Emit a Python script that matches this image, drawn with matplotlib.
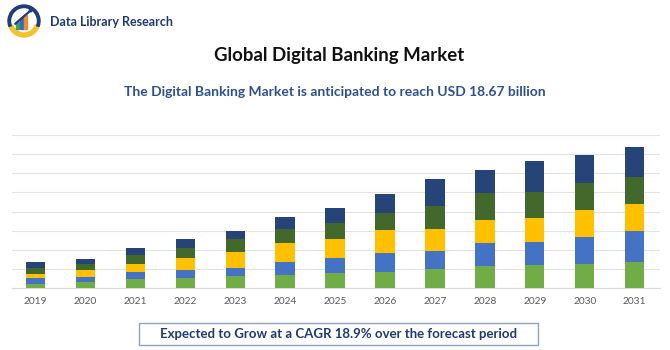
import matplotlib
matplotlib.use("Agg")
import matplotlib.pyplot as plt
import numpy as np
from matplotlib.patches import Rectangle, Circle, Wedge, FancyArrow

years = ["2019", "2020", "2021", "2022", "2023", "2024", "2025",
         "2026", "2027", "2028", "2029", "2030", "2031"]
seg_green = [0.24, 0.31, 0.50, 0.56, 0.64, 0.70, 0.78, 0.87, 0.99, 1.17, 1.20, 1.29, 1.39]
seg_blue = [0.28, 0.26, 0.35, 0.41, 0.44, 0.66, 0.79, 0.96, 0.98, 1.18, 1.22, 1.37, 1.58]
seg_yellow = [0.25, 0.40, 0.40, 0.61, 0.80, 0.99, 1.02, 1.23, 1.14, 1.22, 1.25, 1.44, 1.45]
seg_dkgreen = [0.27, 0.28, 0.49, 0.52, 0.68, 0.75, 0.80, 0.89, 1.19, 1.40, 1.36, 1.41, 1.39]
seg_navy = [0.32, 0.30, 0.35, 0.46, 0.43, 0.64, 0.78, 0.95, 1.42, 1.19, 1.60, 1.43, 1.58]

series = [seg_green, seg_blue, seg_yellow, seg_dkgreen, seg_navy]
colors = ["#70ad47", "#4472c4", "#ffc000", "#43682b", "#264478"]

title = "Global Digital Banking Market"
subtitle = "The Digital Banking Market is anticipated to reach USD 18.67 billion"
footer = "Expected to Grow at a CAGR 18.9% over the forecast period"
brand = "Data Library Research"

plt.rcParams['font.family'] = ['Lato', 'DejaVu Sans']

W, H = 670, 350
fig = plt.figure(figsize=(W / 100, H / 100), dpi=100)
fig.patch.set_facecolor("white")

# axes placement (pixels)
ax_l, ax_r, ax_t, ax_b = 12, 660, 135, 288.3
ax = fig.add_axes([ax_l / W, 1 - ax_b / H, (ax_r - ax_l) / W, (ax_b - ax_t) / H])
x = np.arange(len(years))
bottom = np.zeros(len(years))
for vals, c in zip(series, colors):
    ax.bar(x, vals, bottom=bottom, width=0.39, color=c, zorder=3, linewidth=0)
    bottom += np.array(vals)

ax.set_xlim(-0.475, 12.51)
ax.set_ylim(0, 8)
ax.set_yticks(np.arange(0, 9, 1))
ax.yaxis.grid(True, color="#e3e3e3", linewidth=0.8, zorder=0)
ax.tick_params(axis="y", left=False, labelleft=False)
ax.tick_params(axis="x", length=0, pad=6, labelsize=7.3, labelcolor="#595959")
ax.set_xticks(x)
ax.set_xticklabels(years)
for s in ["top", "right", "left"]:
    ax.spines[s].set_visible(False)
ax.spines["bottom"].set_color("#d9d9d9")
ax.spines["bottom"].set_linewidth(0.8)
ax.set_facecolor("white")

# titles
fig.text(339 / W, 1 - 55.5 / H, title, ha="center", va="center",
         fontsize=13.4, fontweight="bold", color="#111111")
fig.text(335 / W, 1 - 92 / H, subtitle, ha="center", va="center",
         fontsize=10.0, fontweight="bold", color="#2f5189")

# footer box
fig.patches.append(Rectangle((139 / W, 1 - 345 / H), (538 - 139) / W, 22 / H,
                             transform=fig.transFigure, facecolor="white",
                             edgecolor="#8fa2bf", linewidth=1.0))
fig.text(339 / W, 1 - 333.5 / H, footer, ha="center", va="center",
         fontsize=9.5, fontweight="bold", color="#1f3b6e")

# logo
lax = fig.add_axes([3 / W, 1 - 39 / H, 42 / W, 36 / H])
lax.set_xlim(0, 42)
lax.set_ylim(0, 36)
lax.set_aspect("equal")
lax.axis("off")
lax.add_patch(Wedge((21, 18), 16, 200, 340, width=4, color="#f2c230"))
lax.add_patch(Wedge((21, 18), 16, 340, 560, width=2.5, color="#1f3b7a"))
lax.add_patch(Rectangle((13, 10), 3, 7, color="#3aa35a"))
lax.add_patch(Rectangle((17, 10), 3, 11, color="#2f6fbf"))
lax.add_patch(Rectangle((21, 10), 3, 14, color="#f08a2a"))
lax.add_patch(FancyArrow(12, 15, 15, 13, width=0.8, head_width=3, head_length=3,
                         color="#1f3b7a"))

fig.text(50 / W, 1 - 22 / H, brand, ha="left", va="center",
         fontsize=9.0, fontweight="bold", color="#1f3a6e")

fig.savefig("out.png", dpi=100, facecolor="white")
